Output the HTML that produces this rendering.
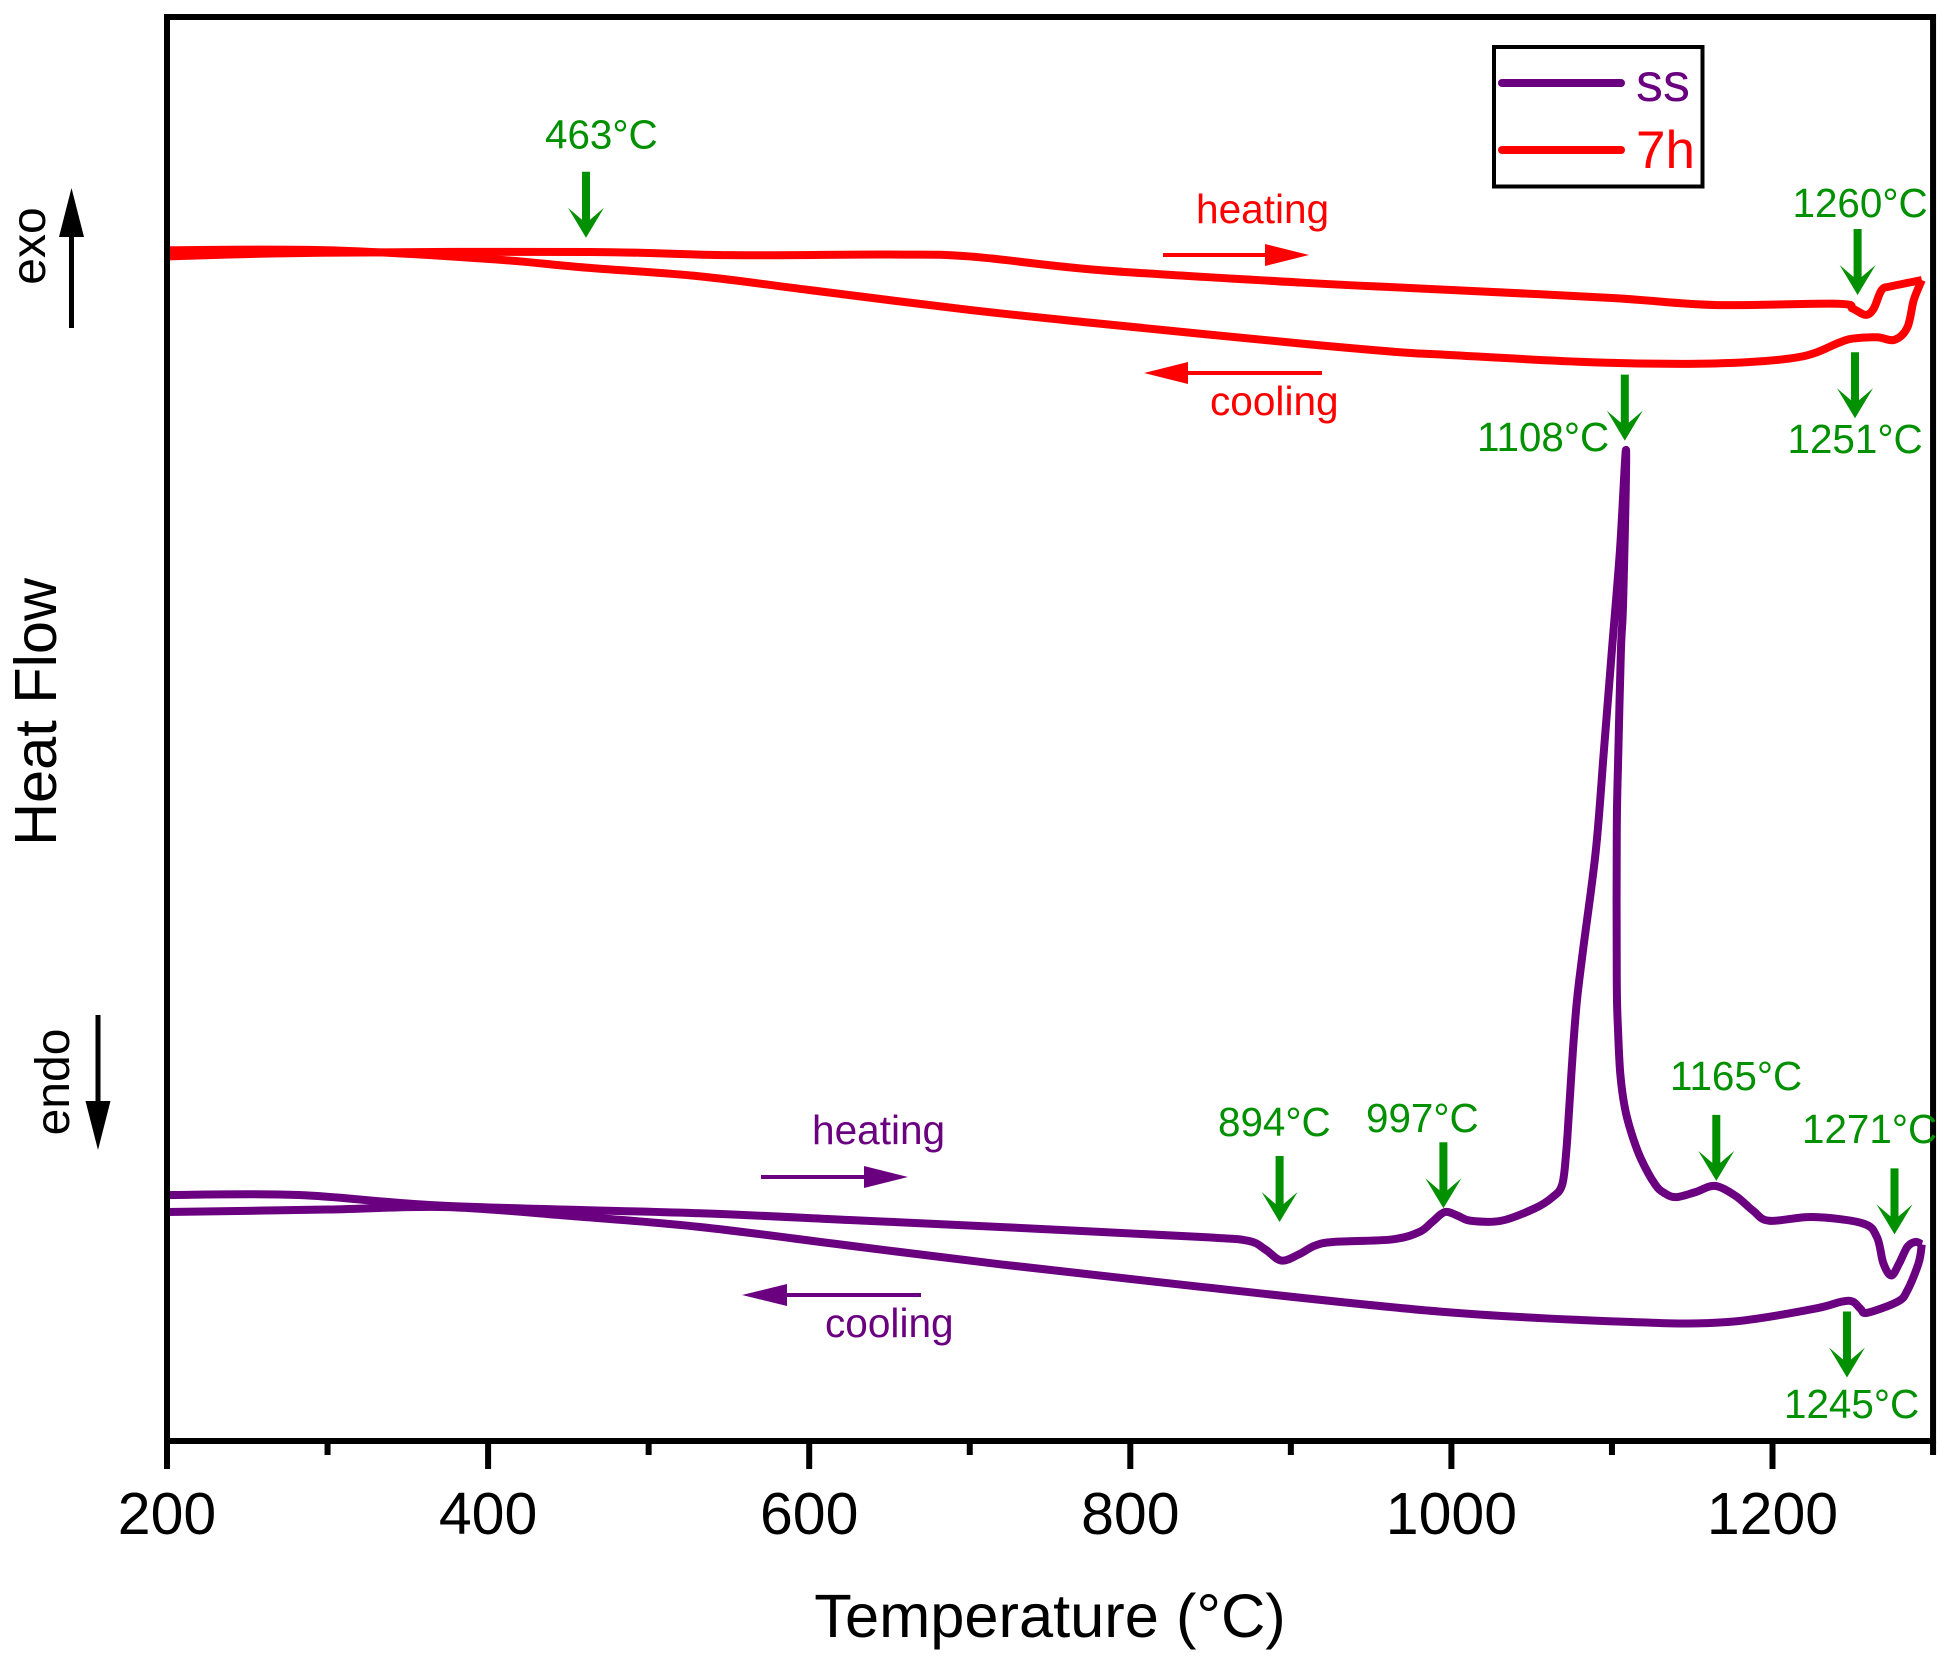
<!DOCTYPE html>
<html lang="en">
<head>
<meta charset="utf-8">
<title>Heat Flow vs Temperature</title>
<style>
html,body{margin:0;padding:0;background:#fff;}
svg{display:block;}
text{font-family:"Liberation Sans",Arial,sans-serif;}
.note{font-size:40.4px;fill:#009000;}
.big{font-size:59px;fill:#000;}
</style>
</head>
<body>
<svg id="chart" xmlns="http://www.w3.org/2000/svg" width="1951" height="1659" viewBox="0 0 1951 1659">
  <rect width="1951" height="1659" fill="#fff"/>
  <g id="curves"></g>
  <g id="axes"></g>
  <g id="arrows"></g>

  <g>
    <rect x="1494" y="47" width="208.500" height="139.500" fill="none" stroke="#000" stroke-width="4"/>
    <line x1="1502" y1="83" x2="1621" y2="83" stroke="#6a0080" stroke-width="8" stroke-linecap="round"/>
    <text x="1636" y="101" font-size="54" fill="#6a0080">ss</text>
    <line x1="1502" y1="150" x2="1621" y2="150" stroke="#ff0000" stroke-width="8" stroke-linecap="round"/>
    <text x="1636" y="168" font-size="53" fill="#ff0000">7h</text>
  </g>

  <text class="note" x="545" y="148.500">463°C</text>
  <text class="note" x="1792.500" y="217">1260°C</text>
  <text class="note" x="1787.500" y="453">1251°C</text>
  <text class="note" x="1477" y="451">1108°C</text>
  <text class="note" x="1218" y="1136">894°C</text>
  <text class="note" x="1366" y="1132">997°C</text>
  <text class="note" x="1670" y="1090">1165°C</text>
  <text class="note" x="1802" y="1143">1271°C</text>
  <text class="note" x="1784" y="1418">1245°C</text>

  <text x="1196" y="223" font-size="40.6" fill="#ff0000">heating</text>
  <text x="1210" y="415" font-size="40.6" fill="#ff0000">cooling</text>
  <text x="812" y="1144" font-size="40.6" fill="#6a0080">heating</text>
  <text x="825" y="1337" font-size="40.6" fill="#6a0080">cooling</text>

  <g>
    <line x1="1163" y1="255" x2="1270" y2="255" stroke="#ff0000" stroke-width="4"/>
    <polygon points="1309,255 1265,244 1265,266" fill="#ff0000"/>
  </g>
  <g>
    <line x1="1322" y1="373" x2="1183" y2="373" stroke="#ff0000" stroke-width="4"/>
    <polygon points="1144,373 1188,362 1188,384" fill="#ff0000"/>
  </g>
  <g>
    <line x1="761" y1="1177" x2="869" y2="1177" stroke="#6a0080" stroke-width="4"/>
    <polygon points="908,1177 864,1166 864,1188" fill="#6a0080"/>
  </g>
  <g>
    <line x1="921" y1="1295" x2="782" y2="1295" stroke="#6a0080" stroke-width="4"/>
    <polygon points="742,1295 787,1284 787,1306" fill="#6a0080"/>
  </g>

  <g>
    <line x1="71.5" y1="328" x2="71.5" y2="230" stroke="#000" stroke-width="5"/>
    <polygon points="71.5,188 59,237 84,237" fill="#000"/>
  </g>
  <g>
    <line x1="98" y1="1015" x2="98" y2="1108" stroke="#000" stroke-width="5"/>
    <polygon points="98,1150 85.500,1101 110.500,1101" fill="#000"/>
  </g>
  <text transform="translate(45,246) rotate(-90)" text-anchor="middle" font-size="48">exo</text>
  <text transform="translate(69,1082) rotate(-90)" text-anchor="middle" font-size="48">endo</text>
  <text transform="translate(56,712) rotate(-90)" text-anchor="middle" font-size="59.5">Heat Flow</text>
  <text x="1050" y="1637" text-anchor="middle" font-size="61.4">Temperature (°C)</text>
</svg>

<script>
// Chart data: temperature in °C, heat flow in arbitrary units
const majorTicks = [200, 400, 600, 800, 1000, 1200];
const minorTicks = [300, 500, 700, 900, 1100, 1300];
const tickLabels = ["200", "400", "600", "800", "1000", "1200"];

const ssHeatingTemp = [200, 282, 374, 532, 625, 719, 843, 873, 884, 894, 905, 915, 927, 963, 980, 988, 996, 1004, 1012, 1031, 1052, 1063, 1069, 1071.5, 1073.5, 1075.7, 1078.2, 1082, 1090, 1095, 1100, 1105, 1108.8, 1107, 1105.6, 1104, 1103, 1103, 1103.8, 1105.2, 1108, 1112, 1118, 1127, 1133, 1140, 1152, 1164, 1177, 1188, 1198, 1225, 1256, 1265, 1269, 1274, 1279, 1284, 1289, 1293];
const ssHeatingFlow = [197.7, 197.7, 189, 183, 177.6, 172, 164, 161, 154, 145, 150, 157, 160, 162, 168, 176, 184, 181, 177, 177, 187, 196, 206, 232, 270, 314, 354, 394.6, 475, 555, 636, 716, 796, 676, 636, 555, 491, 370, 330, 295, 268, 248, 227, 206, 199, 196, 200, 205, 197, 185, 177, 180, 175, 164, 143, 133, 143, 156, 160, 158];
const ssCoolingTemp = [1293, 1291, 1284, 1278, 1259, 1255, 1250, 1243, 1225, 1172, 1112, 993, 843, 719, 625, 532, 450, 374, 300, 200];
const ssCoolingFlow = [158, 143, 121, 112, 103, 106, 112, 112, 106, 95.6, 95.6, 104, 124, 142, 157, 172, 181, 188, 186, 184];

const h7HeatingTemp = [200, 295, 463, 550, 650, 700, 781, 906, 968, 1000, 1100, 1164, 1240, 1250, 1258, 1263, 1268, 1274, 1293];
const h7HeatingFlow = [952, 955, 955.6, 953, 953.5, 952, 941, 931, 927, 925, 918.6, 913, 914, 910, 905, 910, 925, 928, 933];
const h7CoolingTemp = [1293, 1288, 1284, 1276, 1265, 1250, 1242, 1216, 1164, 1087, 996, 968, 906, 781, 700, 600, 532, 461, 400, 300, 200];
const h7CoolingFlow = [933, 917, 895, 885, 887, 886, 883, 871, 866, 867, 873, 875, 882, 898, 909, 925, 936, 943, 950, 957, 957];

const noteArrowTemps = [461, 1253, 1251.4, 1108, 893, 995, 1165, 1276, 1246.4];
const noteArrowFlows = [967, 921, 822, 804, 176, 187, 209, 166, 51];
const noteArrowNames = ["463", "1260", "1251", "1108", "894", "997", "1165", "1271", "1245"];

const X0 = 167, PX_PER_DEG = 1.6055, Y0 = 1441, PX_PER_UNIT = 1.2443;
const NS = "http://www.w3.org/2000/svg";
function xScale(t) { return X0 + (t - 200) * PX_PER_DEG; }
function yScale(v) { return Y0 - v * PX_PER_UNIT; }

function smoothPath(temps, flows) {
  const p = temps.map((t, i) => [xScale(t), yScale(flows[i])]);
  let d = "M" + p[0][0].toFixed(2) + " " + p[0][1].toFixed(2);
  const k = 1 / 6;
  for (let i = 0; i < p.length - 1; i++) {
    const a = p[Math.max(i - 1, 0)], b = p[i], c = p[i + 1], e = p[Math.min(i + 2, p.length - 1)];
    const c1x = b[0] + (c[0] - a[0]) * k, c1y = b[1] + (c[1] - a[1]) * k;
    const c2x = c[0] - (e[0] - b[0]) * k, c2y = c[1] - (e[1] - b[1]) * k;
    d += " C" + c1x.toFixed(2) + " " + c1y.toFixed(2) + " " + c2x.toFixed(2) + " " + c2y.toFixed(2) + " " + c[0].toFixed(2) + " " + c[1].toFixed(2);
  }
  return d;
}

const curves = document.getElementById("curves");
function addCurve(temps, flows, color, name) {
  const el = document.createElementNS(NS, "path");
  el.setAttribute("d", smoothPath(temps, flows));
  el.setAttribute("fill", "none");
  el.setAttribute("stroke", color);
  el.setAttribute("stroke-width", "8");
  el.setAttribute("stroke-linejoin", "round");
  el.setAttribute("stroke-linecap", "butt");
  
  
  curves.appendChild(el);
}
addCurve(h7HeatingTemp, h7HeatingFlow, "#ff0000", "series-7h-heating");
addCurve(h7CoolingTemp, h7CoolingFlow, "#ff0000", "series-7h-cooling");
addCurve(ssHeatingTemp, ssHeatingFlow, "#6a0080", "series-ss-heating");
addCurve(ssCoolingTemp, ssCoolingFlow, "#6a0080", "series-ss-cooling");

const axes = document.getElementById("axes");
const frame = document.createElementNS(NS, "rect");
frame.setAttribute("x", xScale(200));
frame.setAttribute("y", 17);
frame.setAttribute("width", xScale(1300) - xScale(200));
frame.setAttribute("height", Y0 - 17);
frame.setAttribute("fill", "none");
frame.setAttribute("stroke", "#000");
frame.setAttribute("stroke-width", "6");


axes.appendChild(frame);

function addTick(t, end, name) {
  const el = document.createElementNS(NS, "line");
  el.setAttribute("x1", xScale(t));
  el.setAttribute("x2", xScale(t));
  el.setAttribute("y1", Y0);
  el.setAttribute("y2", end);
  el.setAttribute("stroke", "#000");
  el.setAttribute("stroke-width", "6");
  
  
  axes.appendChild(el);
}
majorTicks.forEach(function (t, i) {
  addTick(t, 1469, "major-tick-" + t);
  const lab = document.createElementNS(NS, "text");
  lab.setAttribute("x", xScale(t));
  lab.setAttribute("y", 1534);
  lab.setAttribute("text-anchor", "middle");
  lab.setAttribute("class", "big");
  
  
  lab.textContent = tickLabels[i];
  axes.appendChild(lab);
});
minorTicks.forEach(function (t) {
  addTick(t, 1455, "minor-tick-" + t);
});

const arrows = document.getElementById("arrows");
noteArrowTemps.forEach(function (t, i) {
  const x = xScale(t), y = yScale(noteArrowFlows[i]);
  const g = document.createElementNS(NS, "polygon");
  const pts = [[x, y], [x + 18, y - 30], [x + 4, y - 18], [x + 4, y - 66], [x - 4, y - 66], [x - 4, y - 18], [x - 18, y - 30]];
  g.setAttribute("points", pts.map(function (p) { return p[0].toFixed(1) + "," + p[1].toFixed(1); }).join(" "));
  g.setAttribute("fill", "#009000");
  
  
  arrows.appendChild(g);
});
</script>
</body>
</html>
